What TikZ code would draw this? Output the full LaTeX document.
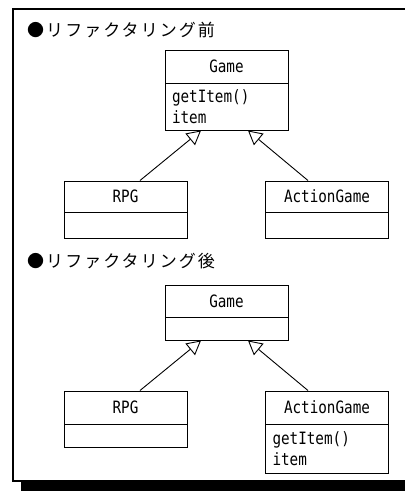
\documentclass[tikz,border=0pt]{standalone}
\usepackage{fontspec}
\newfontfamily\jp[LetterSpace=12]{Noto Sans CJK JP}
\newfontfamily\cls[FakeStretch=0.84]{DejaVu Sans Mono}
\usetikzlibrary{arrows.meta}
\begin{document}
\begin{tikzpicture}[x=1pt,y=-1pt,
  heading/.style={anchor=west, inner sep=0pt, font=\jp\fontsize{17}{20}\selectfont},
  cname/.style={draw, line width=1pt, minimum width=123pt, inner sep=0pt,
    font=\cls\fontsize{17}{21}\selectfont},
  cbody/.style={draw, line width=1pt, minimum width=123pt, text width=109pt,
    align=left, inner sep=0pt, font=\cls\fontsize{17}{21}\selectfont},
  inh/.style={line width=0.9pt, -{Triangle[open,length=14pt,width=15pt,line width=0.9pt]}}]
\clip (0,0) rectangle (405,491);
\fill[white] (0,0) rectangle (405,491);
\fill[black] (21,482) rectangle (430,491);
\draw[line width=2pt] (13,9) rectangle (425,481);

\node[heading] (h1) at (27,30) {●リファクタリング前};
\node[heading] (h2) at (27,261) {●リファクタリング後};

% before
\node[cname, minimum height=33pt] (g1) at (226.5,66.5) {Game};
\node[cbody, minimum height=47pt] (g1b) at (226.5,106.5) {getItem()\\item};
\node[cname, minimum height=31pt] (r1) at (125.5,196.5) {RPG};
\node[cbody, minimum height=26pt] (r1b) at (125.5,225) {};
\node[cname, minimum height=31pt] (a1) at (327,196.5) {ActionGame};
\node[cbody, minimum height=26pt] (a1b) at (327,225) {};
\draw[inh] ([xshift=14.5pt]r1.north) -- ([xshift=-25.5pt]g1b.south);
\draw[inh] ([xshift=-19pt]a1.north) -- ([xshift=21.5pt]g1b.south);

% after
\node[cname, minimum height=32pt] (g2) at (226.5,301) {Game};
\node[cbody, minimum height=23pt] (g2b) at (226.5,328.5) {};
\node[cname, minimum height=33pt] (r2) at (125.5,407.5) {RPG};
\node[cbody, minimum height=23pt] (r2b) at (125.5,435.5) {};
\node[cname, minimum height=33pt] (a2) at (327,407.5) {ActionGame};
\node[cbody, minimum height=49pt] (a2b) at (327,448.5) {getItem()\\item};
\draw[inh] ([xshift=14.5pt]r2.north) -- ([xshift=-25.5pt]g2b.south);
\draw[inh] ([xshift=-19pt]a2.north) -- ([xshift=21.5pt]g2b.south);
\end{tikzpicture}
\end{document}
